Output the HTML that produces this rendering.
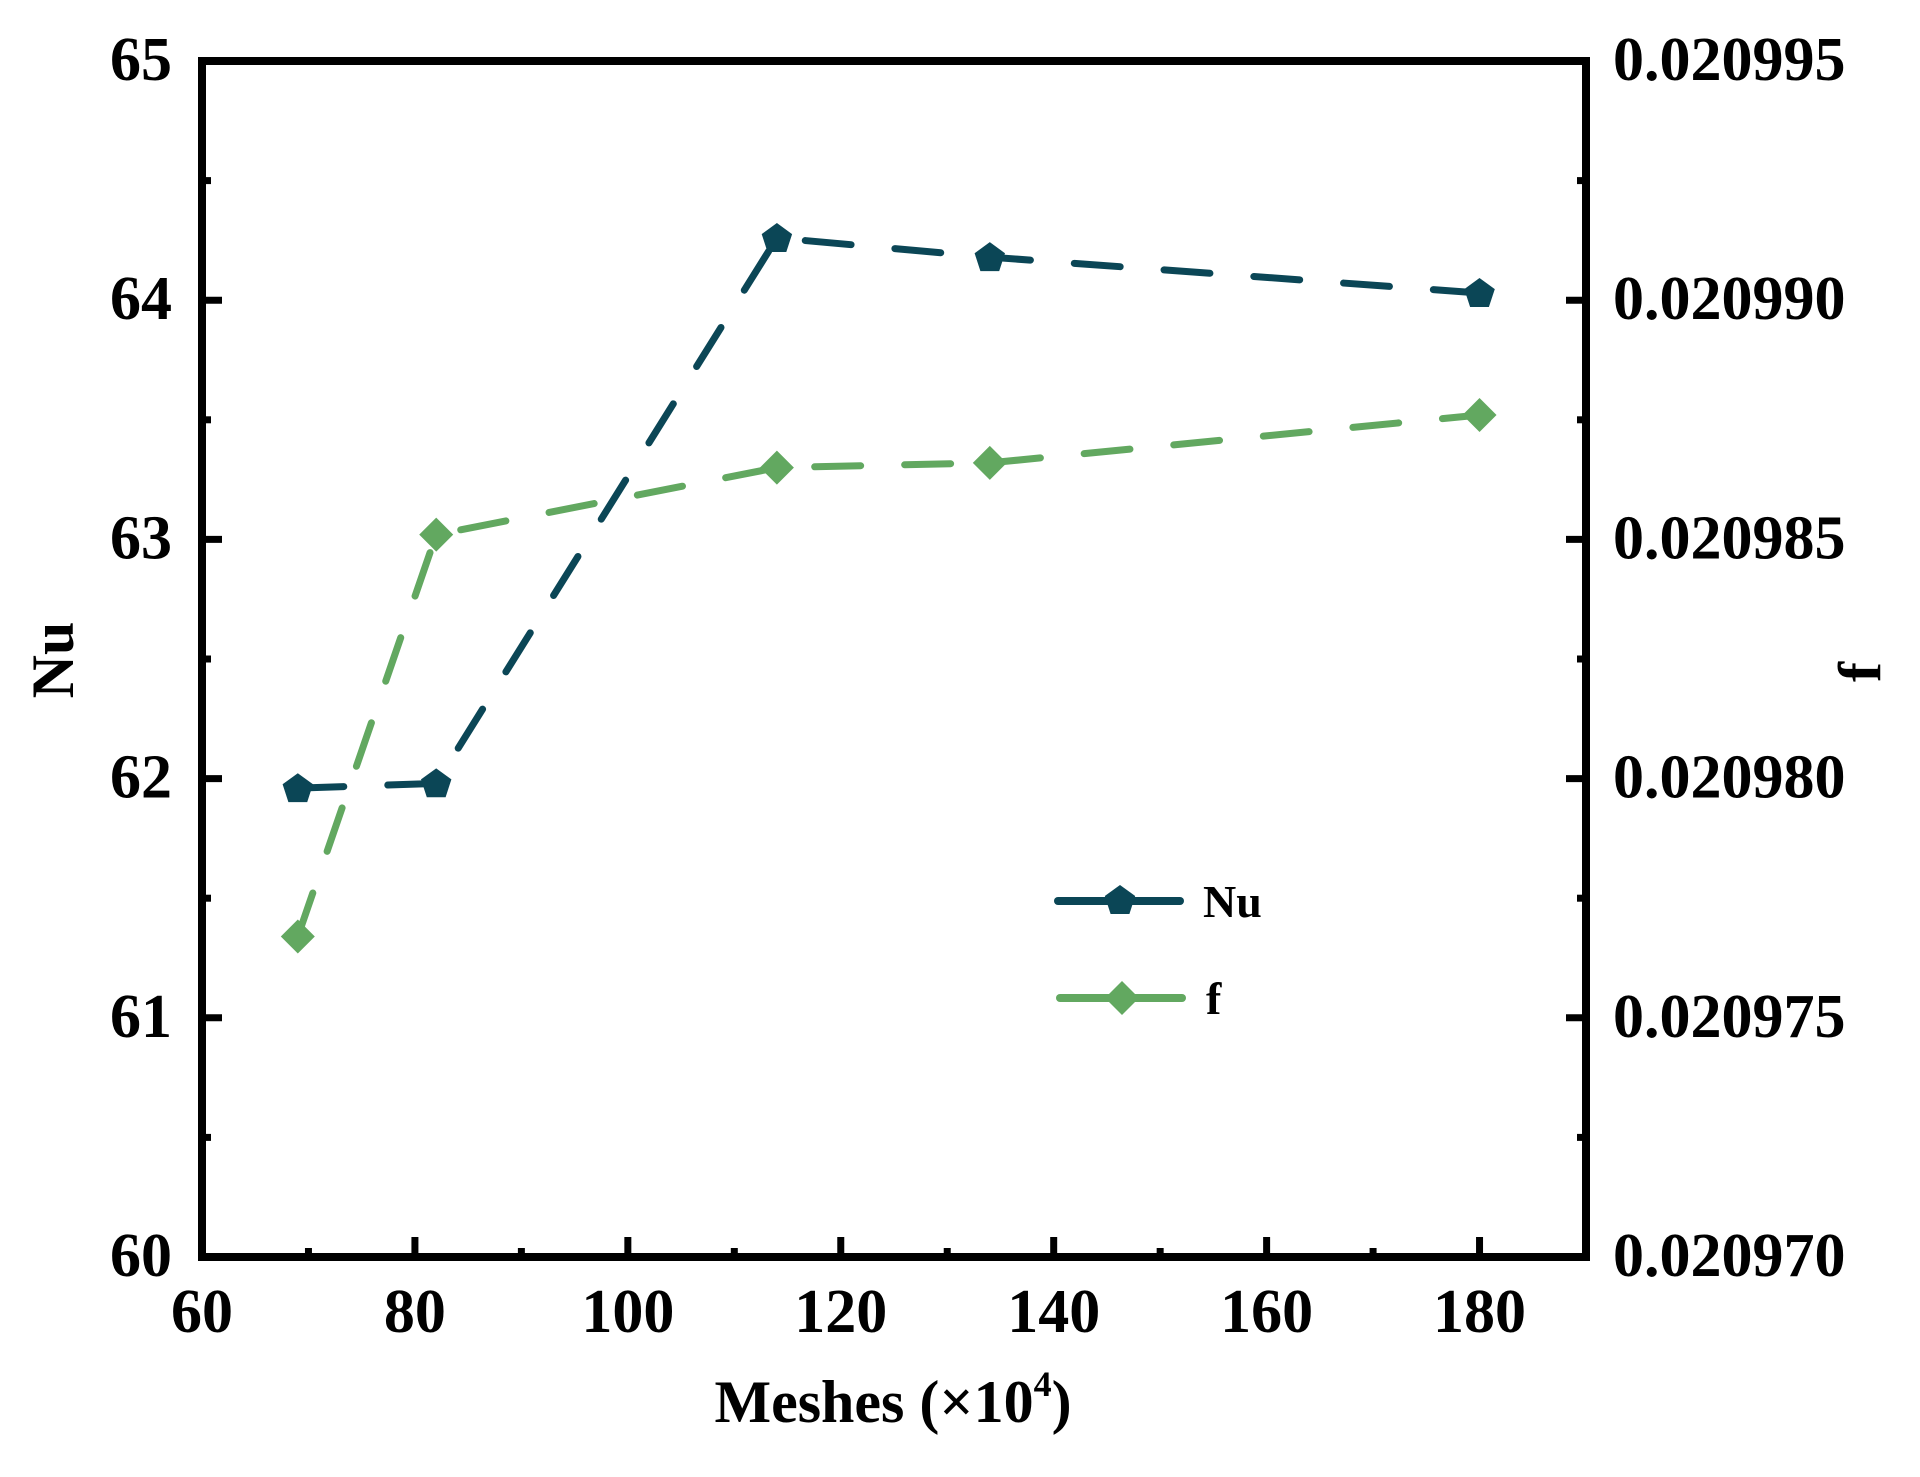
<!DOCTYPE html>
<html><head><meta charset="utf-8"><style>
html,body{margin:0;padding:0;background:#fff;}
svg{display:block;}
text{font-family:"Liberation Serif",serif;font-weight:bold;fill:#000;}
</style></head><body>
<svg id="chart" width="1920" height="1477" viewBox="0 0 1920 1477">
<g id="marks"></g>
<g id="axes"></g>
<g>
  <g>
    <line x1="1058" y1="901" x2="1180" y2="901" stroke="#0b4656" stroke-width="8" stroke-linecap="round"/>
    <polygon points="1120,885 1135.2,896 1129.4,914 1110.6,914 1104.8,896" fill="#0b4656"/>
    <text x="1203" y="917" font-size="46">Nu</text>
  </g>
  <g>
    <line x1="1060" y1="998" x2="1182" y2="998" stroke="#62a860" stroke-width="8" stroke-linecap="round"/>
    <polygon points="1122,981 1139,998 1122,1015 1105,998" fill="#62a860"/>
    <text x="1206" y="1014" font-size="46">f</text>
  </g>
</g>
<text x="893" y="1422" font-size="60" text-anchor="middle">Meshes (×10<tspan font-size="36" dy="-26">4</tspan><tspan dy="26">)</tspan></text>
<text transform="translate(73,660) rotate(-90)" font-size="60" text-anchor="middle">Nu</text>
<text transform="translate(1880,672) rotate(-90)" font-size="60" text-anchor="middle">f</text>
</svg>
<script>
const meshes = [69, 82, 114, 134, 180];
const nuValues = [61.96, 61.98, 64.26, 64.18, 64.03];
const fValues = [0.0209767, 0.0209851, 0.0209865, 0.0209866, 0.0209876];
const xTicks = [60, 80, 100, 120, 140, 160, 180];
const nuTicks = [60, 61, 62, 63, 64, 65];
const fTickLabels = ["0.020970","0.020975","0.020980","0.020985","0.020990","0.020995"];

const L=202, R=1586, T=61, B=1257;
const xS = v => L + (v-60)/(190-60)*(R-L);
const yNu = v => B - (v-60)/5*(B-T);
const yF = v => B - (v-0.02097)/0.000025*(B-T);
const NS="http://www.w3.org/2000/svg";
function mk(tag, attrs, parent){const e=document.createElementNS(NS,tag);for(const k in attrs)e.setAttribute(k,attrs[k]);parent.appendChild(e);return e;}
const axes=document.getElementById('axes'), marks=document.getElementById('marks');

const frame=mk('rect',{x:L,y:T,width:R-L,height:B-T,fill:'none',stroke:'#000','stroke-width':8},axes);



for(let v=60; v<=190; v+=10){
  const x=xS(v), major = v%20===0;
  const t=mk('line',{x1:x,y1:B,x2:x,y2:B-(major?20:9),stroke:'#000','stroke-width':7},axes);
  
  
}
xTicks.forEach(v=>{
  const t=mk('text',{x:xS(v),y:1332,'font-size':62,'text-anchor':'middle'},axes);
  t.textContent=v;
  
  
});
for(let i=0;i<=10;i++){
  const v=60+i*0.5, y=yNu(v), major=i%2===0;
  const a=mk('line',{x1:L,y1:y,x2:L+(major?20:9),y2:y,stroke:'#000','stroke-width':7},axes);
  
  
  const b=mk('line',{x1:R,y1:y,x2:R-(major?20:9),y2:y,stroke:'#000','stroke-width':7},axes);
  
  
}
nuTicks.forEach((v,i)=>{
  const t=mk('text',{x:172,y:yNu(v)+19,'font-size':62,'text-anchor':'end'},axes);
  t.textContent=v;
  
  
  const r=mk('text',{x:1613,y:yNu(v)+19,'font-size':62},axes);
  r.textContent=fTickLabels[i];
  
  
});

function series(xs, ys, yfn, color, shape, name){
  const pts=xs.map((x,i)=>xS(x)+','+yfn(ys[i])).join(' ');
  const pl=mk('polyline',{points:pts,fill:'none',stroke:color,'stroke-width':7,'stroke-dasharray':'46 44','stroke-linecap':'round'},marks);
  
  
  xs.forEach((x,i)=>{
    const cx=xS(x), cy=yfn(ys[i]);
    let p;
    if(shape==='pent'){
      const r=16, arr=[];
      for(let k=0;k<5;k++){const a=-Math.PI/2+k*2*Math.PI/5;arr.push((cx+r*Math.cos(a)).toFixed(1)+','+(cy+r*Math.sin(a)+1).toFixed(1));}
      p=mk('polygon',{points:arr.join(' '),fill:color},marks);
    } else {
      const r=17;
      p=mk('polygon',{points:`${cx},${cy-r} ${cx+r},${cy} ${cx},${cy+r} ${cx-r},${cy}`,fill:color},marks);
    }
    
    
  });
}
series(meshes, fValues, yF, '#62a860', 'diamond', 'f');
series(meshes, nuValues, yNu, '#0b4656', 'pent', 'nu');
</script>
</body></html>
